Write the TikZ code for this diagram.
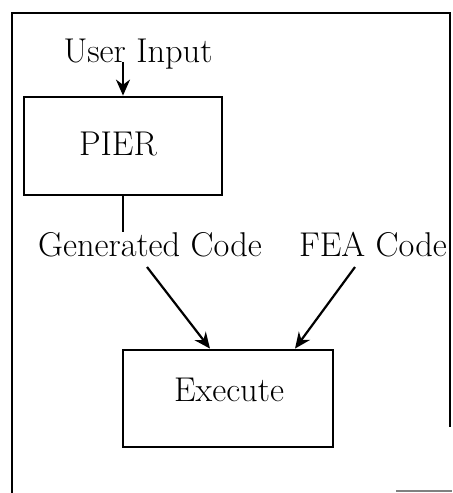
\documentclass[tikz,border=0pt]{standalone}
\usetikzlibrary{arrows.meta,calc}
\begin{document}
\begin{tikzpicture}[x=0.5pt,y=-0.5pt,
  lbl/.style={inner sep=0pt,anchor=base,font=\fontsize{17.2}{20}\selectfont},
  boxnode/.style={draw,line width=1.4pt,inner sep=0pt},
  conn/.style={line width=1.1pt},
  arr/.style={conn,-{Stealth[length=8pt,width=7pt]}},
  frame/.style={line width=1.4pt}]
\useasboundingbox (0,0) rectangle (452,493);
% outer frame
\coordinate (f1) at (12,493);
\coordinate (f2) at (12,13);
\coordinate (f3) at (450,13);
\coordinate (f4) at (450,427);
\coordinate (f5) at (396,491);
\coordinate (f6) at (452,491);
\draw[frame] (f1) -- (f2) -- (f3) -- (f4);
\draw[line width=0.8pt,gray] (f5) -- (f6);
% boxes
\node[boxnode,minimum width=99pt,minimum height=49pt] (pier) at (123,146) {};
\node[boxnode,minimum width=105pt,minimum height=48.5pt] (exec) at (228,398.5) {};
% texts
\node[lbl] (piert) at (118,155) {PIER};
\node[lbl] (exect) at (229,401) {Execute};
\node[lbl] (ui) at (138,62) {User Input};
\node[lbl] (gc) at (150,256) {Generated Code};
\node[lbl] (fea) at (373,256) {FEA Code};
% connectors
\coordinate (uis) at (123,62);
\coordinate (gcs) at (147,267);
\coordinate (feas) at (355,267);
\draw[arr] (uis) -- (uis |- pier.north);
\draw[conn] (pier.south) -- (pier.south |- gc.north);
\draw[arr] (gcs) -- ([xshift=-9pt]exec.north);
\draw[arr] (feas) -- ([xshift=33.5pt]exec.north);
\end{tikzpicture}
\end{document}
